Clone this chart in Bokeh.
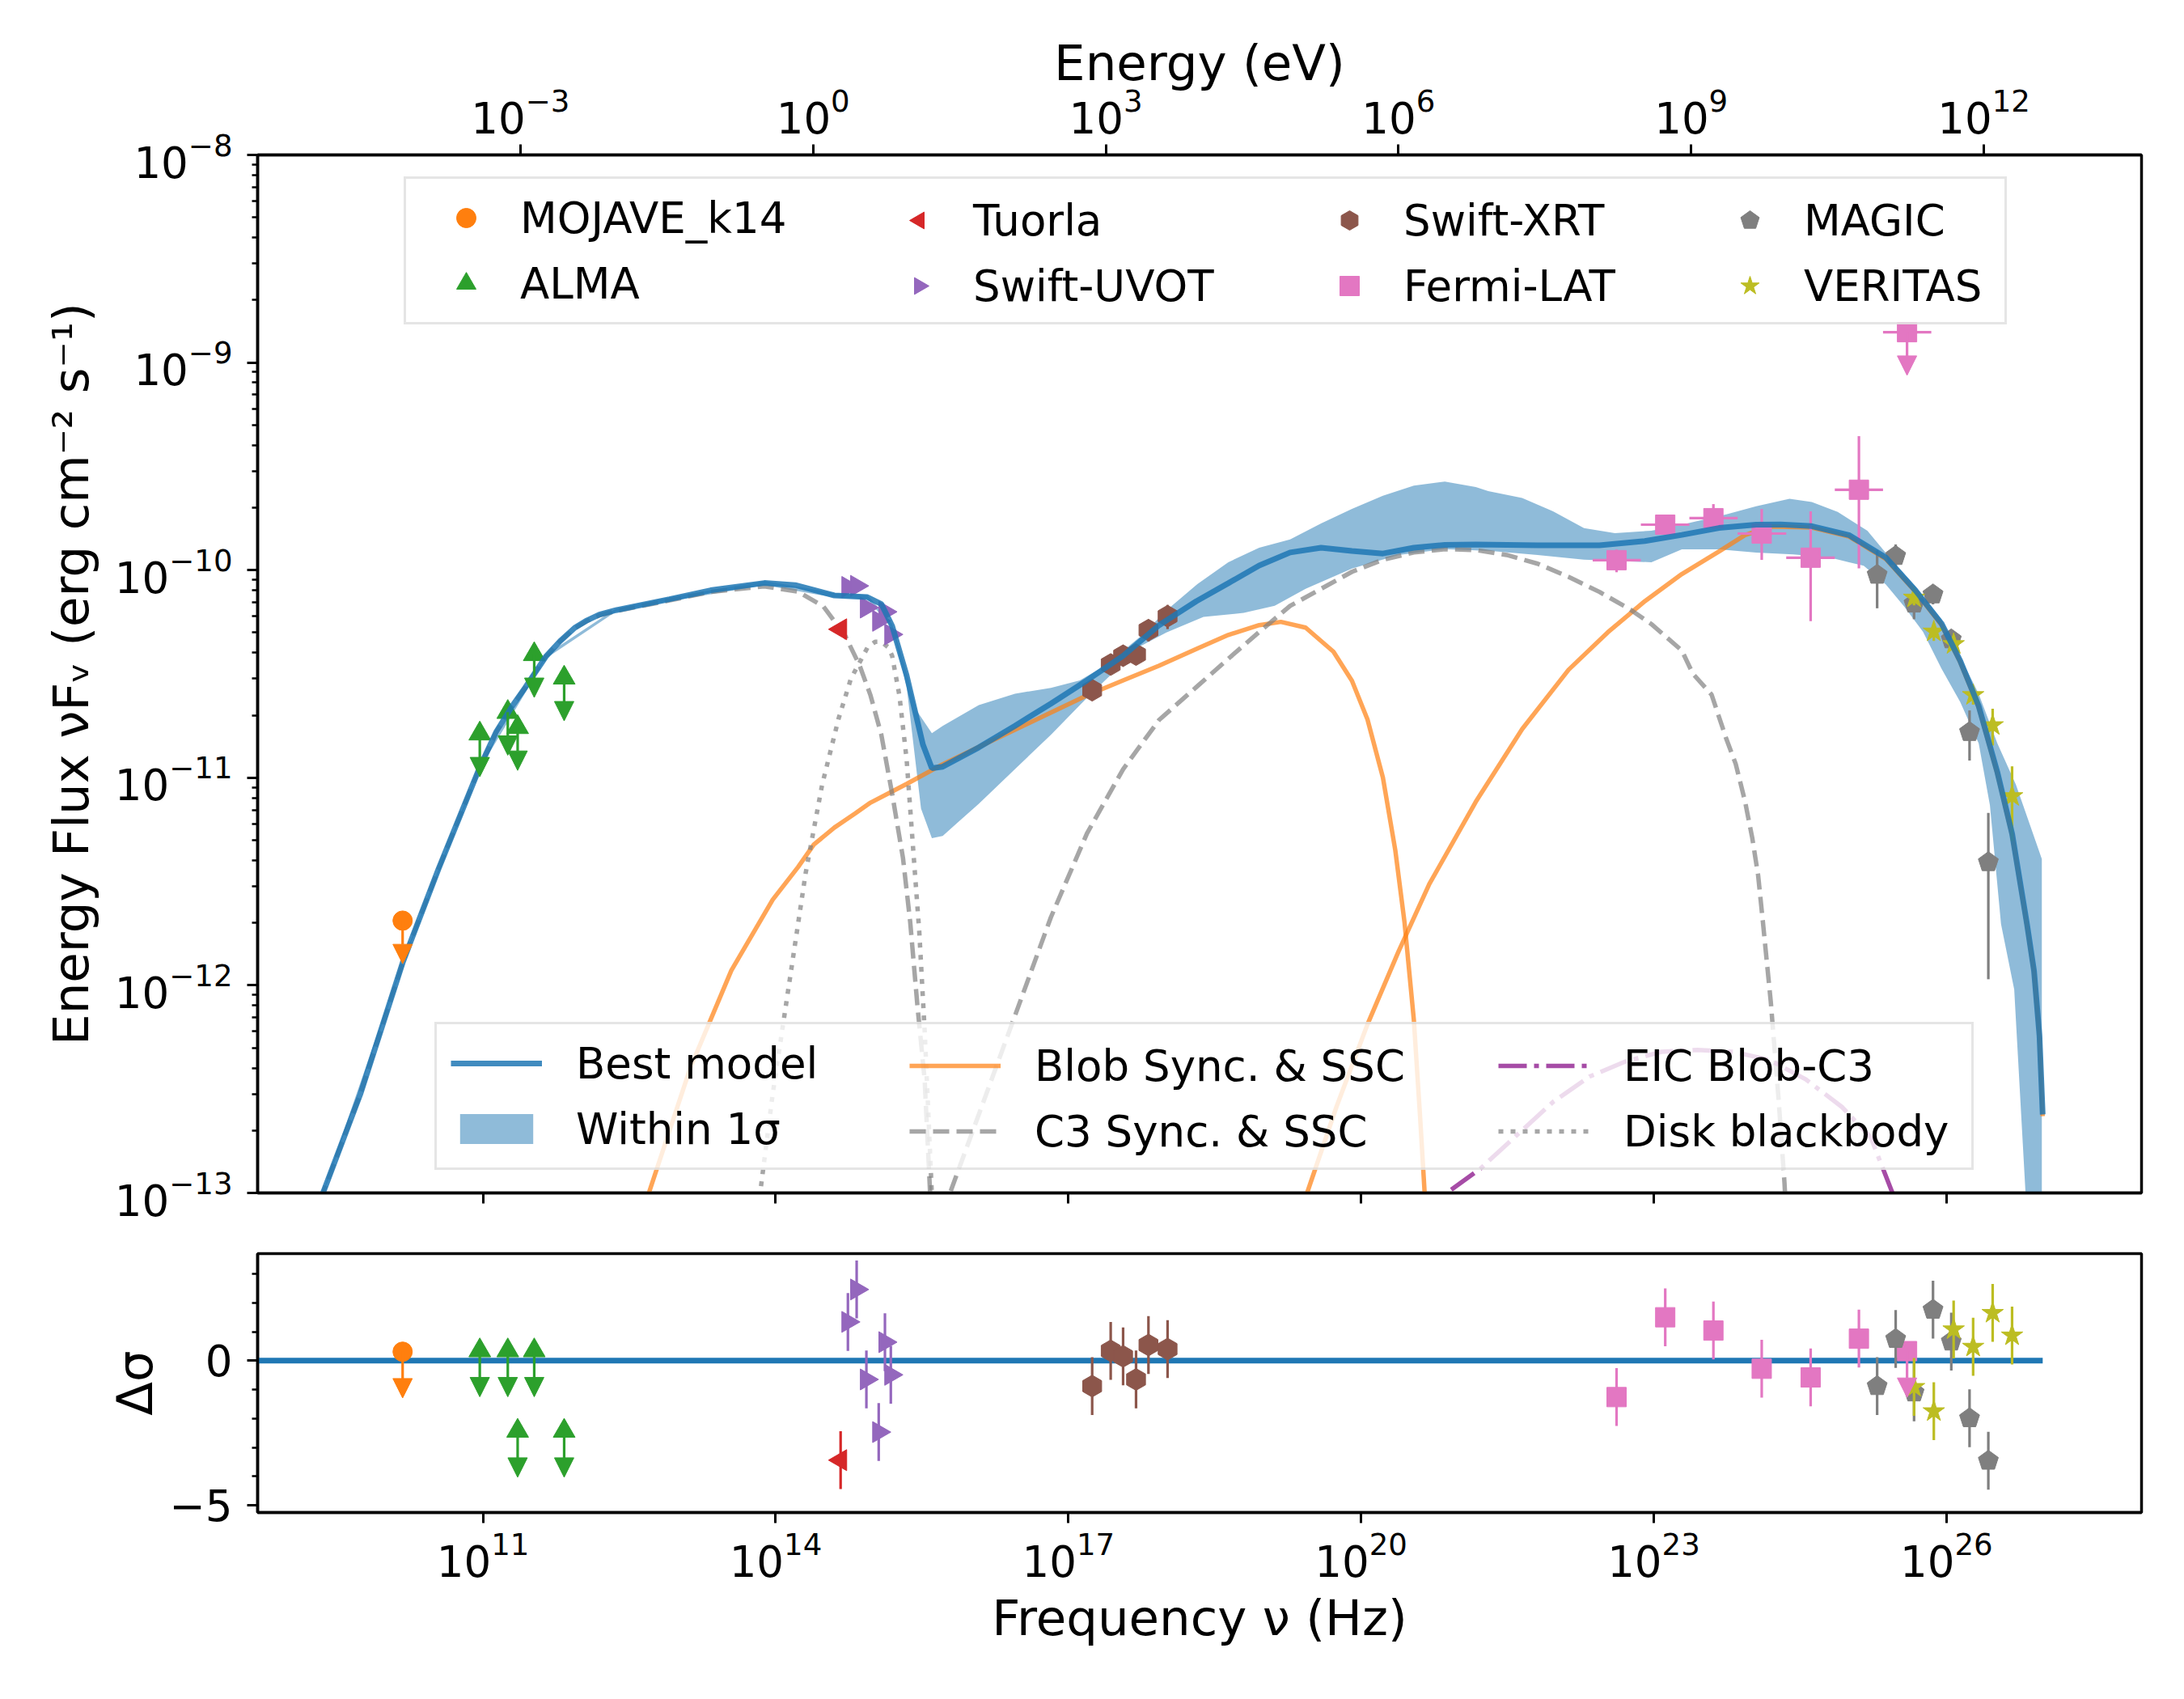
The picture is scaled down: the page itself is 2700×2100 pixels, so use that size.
import numpy as np
from bokeh.plotting import figure
from bokeh.layouts import column
from bokeh.models import (ColumnDataSource, Range1d, LogScale, LogAxis, FixedTicker,
                          LogTickFormatter, CustomJSTickFormatter, Legend, LegendItem,
                          Arrow, NormalHead)
from bokeh.embed import file_html
from bokeh.resources import INLINE

FONT = "DejaVu Sans"
H_EV = 4.135667696e-15  # Planck constant (eV s)

# ---------------- observational data ----------------
mojave_nu = [1.50e10]
mojave_flux = [2.05e-12]
mojave_res = [0.31]

alma_nu = [9.27e10, 1.795e11, 2.265e11, 3.35e11, 6.79e11]
alma_flux = [1.63e-11, 2.07e-11, 1.75e-11, 3.93e-11, 3.03e-11]
alma_res = [0.35, 0.35, -2.43, 0.35, -2.43]

tuorla_nu = [4.63e14]
tuorla_flux = [5.19e-11]
tuorla_err = [3.0e-12]
tuorla_res = [-3.44]

uvot_nu = [5.50e14, 6.76e14, 8.51e14, 1.138e15, 1.318e15, 1.514e15]
uvot_flux = [8.3e-11, 8.4e-11, 6.6e-11, 5.7e-11, 6.3e-11, 4.9e-11]
uvot_err = [3.0e-12, 3.0e-12, 2.5e-12, 2.5e-12, 3.0e-12, 2.5e-12]
uvot_res = [1.34, 2.46, -0.65, -2.47, 0.64, -0.49]

xrt_nu = [1.754e17, 2.716e17, 3.64e17, 4.94e17, 6.62e17, 1.04e18]
xrt_flux = [2.64e-11, 3.51e-11, 3.87e-11, 3.92e-11, 5.14e-11, 6.0e-11]
xrt_err = [2.5e-12, 3.0e-12, 3.5e-12, 4.0e-12, 6.0e-12, 8.0e-12]
xrt_res = [-0.88, 0.34, 0.15, -0.65, 0.54, 0.40]

fermi_nu = [4.16e22, 1.312e23, 4.09e23, 1.279e24, 4.06e24, 1.268e25]
fermi_nu_min = [2.37e22, 7.38e22, 2.32e23, 7.24e23, 2.28e24, 7.18e24]
fermi_nu_max = [7.38e22, 2.32e23, 7.24e23, 2.28e24, 7.18e24, 2.24e25]
fermi_flux = [1.117e-10, 1.656e-10, 1.78e-10, 1.50e-10, 1.148e-10, 2.44e-10]
fermi_err_lo = [1.4e-11, 1.5e-11, 2.0e-11, 3.8e-11, 5.8e-11, 1.42e-10]
fermi_err_hi = [1.4e-11, 1.6e-11, 3.0e-11, 4.7e-11, 7.7e-11, 1.98e-10]
fermi_res = [-1.26, 1.50, 1.04, -0.28, -0.58, 0.76]
fermi_ul_nu = [3.95e25]
fermi_ul_nu_min = [2.24e25]
fermi_ul_nu_max = [7.0e25]
fermi_ul_flux = [1.40e-9]
fermi_ul_res = [0.33]

magic_nu = [1.95e25, 3.02e25, 4.66e25, 7.29e25, 1.122e26, 1.726e26, 2.69e26]
magic_flux = [9.5e-11, 1.17e-10, 6.9e-11, 7.64e-11, 4.64e-11, 1.66e-11, 3.92e-12]
magic_err = [2.95e-11, 1.6e-11, 1.1e-11, 8.0e-12, 4.0e-12, 4.5e-12, 2.85e-12]
magic_res = [-0.88, 0.75, -1.10, 1.76, 0.66, -1.99, -3.46]

veritas_nu = [4.66e25, 7.43e25, 1.186e26, 1.879e26, 2.979e26, 4.71e26]
veritas_flux = [7.37e-11, 5.06e-11, 4.4e-11, 2.5e-11, 1.79e-11, 8.15e-12]
veritas_err = [6.0e-12, 5.0e-12, 3.5e-12, 2.5e-12, 3.6e-12, 3.2e-12]
veritas_res = [-0.91, -1.75, 1.08, 0.48, 1.65, 0.87]

RES_ERR = 1.0

# ---------------- model curves (log10 nu, log10 nuFnu) ----------------
best_lognu = [8.5, 9.36, 9.742, 10.18, 10.544, 10.967, 11.136, 11.305, 11.432, 11.643, 11.791,
              11.94, 12.066, 12.193, 12.362, 12.911, 13.334, 13.884, 14.2, 14.602, 14.94,
              15.083, 15.194, 15.342, 15.509, 15.601, 15.712, 16.082, 16.452, 16.821, 17.191,
              17.561, 17.931, 18.31, 18.639, 18.956, 19.273, 19.59, 19.907, 20.224, 20.541,
              20.859, 21.176, 21.81, 22.444, 22.908, 23.288, 23.669, 24.05, 24.3, 24.62, 25.0,
              25.381, 25.685, 25.951, 26.142, 26.331, 26.522, 26.674, 26.826, 26.898, 26.954,
              26.987]
best_logf = [-14.1, -13.0, -12.525, -11.886, -11.439, -10.949, -10.779, -10.651, -10.566,
             -10.417, -10.342, -10.278, -10.242, -10.214, -10.193, -10.14, -10.097, -10.062,
             -10.072, -10.122, -10.13, -10.163, -10.269, -10.507, -10.84, -10.954, -10.947,
             -10.854, -10.75, -10.643, -10.531, -10.413, -10.265, -10.15, -10.063, -9.978,
             -9.915, -9.892, -9.908, -9.92, -9.892, -9.878, -9.876, -9.88, -9.88, -9.86, -9.83,
             -9.797, -9.781, -9.78, -9.788, -9.831, -9.94, -10.099, -10.258, -10.437, -10.655,
             -10.973, -11.271, -11.705, -11.93, -12.243, -12.622]

band_hi_lognu = [9.36, 10.18, 10.967, 11.643, 12.362, 12.911, 13.884, 14.602, 14.94, 15.194,
                 15.342, 15.45, 15.601, 15.712, 16.082, 16.452, 16.821, 17.117, 17.376, 17.746,
                 18.005, 18.322, 18.639, 18.956, 19.273, 19.59, 19.907, 20.224, 20.541, 20.859,
                 21.176, 21.303, 21.651, 21.968, 22.285, 22.602, 22.976, 23.288, 23.745, 24.05,
                 24.392, 24.62, 24.886, 25.19, 25.419, 25.685, 25.951, 26.142, 26.331, 26.522,
                 26.712, 26.978]
band_hi_logf = [-12.99, -11.875, -10.94, -10.408, -10.185, -10.13, -10.052, -10.11, -10.12,
                -10.258, -10.49, -10.68, -10.785, -10.75, -10.65, -10.595, -10.567, -10.531,
                -10.46, -10.317, -10.194, -10.067, -9.962, -9.892, -9.852, -9.775, -9.705,
                -9.642, -9.593, -9.573, -9.6, -9.619, -9.652, -9.717, -9.798, -9.822, -9.81,
                -9.781, -9.731, -9.692, -9.656, -9.672, -9.72, -9.81, -9.94, -10.079, -10.238,
                -10.417, -10.596, -10.834, -11.033, -11.391]
band_lo_lognu = [9.36, 10.18, 10.967, 11.643, 12.362, 12.911, 13.884, 14.602, 14.94, 15.194,
                 15.342, 15.49, 15.601, 15.712, 16.082, 16.452, 16.821, 17.191, 17.376, 17.746,
                 18.005, 18.385, 18.797, 19.115, 19.432, 19.907, 20.383, 20.859, 21.334, 21.81,
                 22.285, 22.976, 23.288, 23.669, 24.05, 24.43, 24.81, 25.152, 25.38, 25.571,
                 25.761, 25.951, 26.142, 26.331, 26.446, 26.56, 26.695, 26.811, 26.9, 26.978]
band_lo_logf = [-13.01, -11.897, -10.958, -10.426, -10.2, -10.15, -10.072, -10.132, -10.14,
                -10.28, -10.56, -11.149, -11.291, -11.28, -11.125, -10.959, -10.793, -10.615,
                -10.531, -10.365, -10.3, -10.225, -10.206, -10.172, -10.09, -9.992, -9.927,
                -9.899, -9.908, -9.927, -9.95, -9.962, -9.9, -9.9, -9.915, -9.924, -9.94, -9.979,
                -10.069, -10.178, -10.297, -10.476, -10.635, -10.834, -11.132, -11.705, -12.02,
                -13.0, -13.6, -14.2]

blob_sync_lognu = [12.62, 12.70, 13.123, 13.545, 13.969, 14.23, 14.391, 14.602, 14.814, 14.972,
                   15.194, 15.342, 15.712, 16.082, 16.452, 16.821, 17.191, 17.561, 17.931, 18.31,
                   18.639, 18.956, 19.178, 19.432, 19.717, 19.907, 20.066, 20.224, 20.351,
                   20.446, 20.541, 20.605, 20.652, 20.68]
blob_sync_logf = [-13.3, -13.0, -12.4, -11.929, -11.588, -11.43, -11.322, -11.24, -11.172, -11.12,
                  -11.066, -11.03, -10.935, -10.852, -10.769, -10.686, -10.603, -10.531, -10.46,
                  -10.38, -10.312, -10.265, -10.249, -10.277, -10.393, -10.533, -10.719, -10.999,
                  -11.349, -11.698, -12.165, -12.631, -13.0, -13.3]
blob_ssc_lognu = [19.38, 19.447, 19.749, 20.066, 20.383, 20.7, 21.176, 21.651, 22.127, 22.528,
                  22.908, 23.288, 23.669, 23.935, 24.2, 24.62, 25.0, 25.381, 25.685, 25.951,
                  26.142, 26.331, 26.522, 26.674, 26.826, 26.898, 26.954, 26.987]
blob_ssc_logf = [-13.3, -13.0, -12.584, -12.188, -11.838, -11.512, -11.116, -10.766, -10.48,
                 -10.30, -10.15, -10.019, -9.91, -9.831, -9.79, -9.795, -9.838, -9.947, -10.105,
                 -10.265, -10.444, -10.662, -10.98, -11.278, -11.712, -11.937, -12.25, -12.63]

c3_sync_lognu = [8.5, 9.36, 9.742, 10.18, 10.544, 10.967, 11.136, 11.305, 11.432, 11.643, 11.791,
                 11.94, 12.066, 12.193, 12.362, 12.911, 13.334, 13.884, 14.23, 14.49, 14.713,
                 14.861, 14.972, 15.083, 15.194, 15.305, 15.379, 15.453, 15.527, 15.583, 15.64]
c3_sync_logf = [-14.1, -13.0, -12.525, -11.886, -11.439, -10.949, -10.779, -10.651, -10.566,
                -10.417, -10.342, -10.28, -10.245, -10.218, -10.197, -10.146, -10.105, -10.078,
                -10.104, -10.175, -10.317, -10.46, -10.603, -10.793, -11.078, -11.387, -11.696,
                -12.099, -12.455, -13.0, -13.5]
c3_ssc_lognu = [15.74, 15.787, 16.082, 16.452, 16.821, 17.191, 17.561, 17.931, 18.32, 18.639,
                18.956, 19.273, 19.59, 19.907, 20.224, 20.541, 20.859, 21.176, 21.493, 21.81,
                22.127, 22.444, 22.761, 22.976, 23.288, 23.40, 23.593, 23.745, 23.84, 23.935,
                24.01, 24.07, 24.118, 24.2, 24.28, 24.34, 24.38]
c3_ssc_logf = [-13.1, -13.0, -12.622, -12.147, -11.672, -11.268, -10.959, -10.721, -10.56,
               -10.427, -10.298, -10.172, -10.09, -10.008, -9.95, -9.915, -9.899, -9.903, -9.927,
               -9.969, -10.032, -10.105, -10.19, -10.26, -10.387, -10.498, -10.6, -10.814,
               -10.933, -11.112, -11.29, -11.47, -11.69, -12.08, -12.55, -12.95, -13.3]

eic_lognu = [20.8, 20.879, 21.23, 21.6, 21.97, 22.34, 22.71, 23.08, 23.449, 23.819, 24.189,
             24.559, 24.929, 25.224, 25.447, 25.5]
eic_logf = [-13.2, -13.0, -12.88, -12.72, -12.561, -12.44, -12.367, -12.32, -12.311, -12.32,
            -12.36, -12.453, -12.586, -12.732, -13.0, -13.15]

disk_lognu = [13.80, 13.841, 13.969, 14.138, 14.307, 14.476, 14.645, 14.771, 14.94, 15.02,
              15.083, 15.15, 15.194, 15.268, 15.342, 15.416, 15.472, 15.527, 15.572, 15.6, 15.62]
disk_logf = [-13.2, -13.0, -12.525, -11.992, -11.46, -11.034, -10.715, -10.523, -10.374,
             -10.345, -10.345, -10.37, -10.413, -10.603, -10.911, -11.387, -11.743, -12.218,
             -12.693, -13.0, -13.2]

# ---------------- colours ----------------
C_MOJ, C_ALMA, C_TUO, C_UVOT = "#ff7f0e", "#2ca02c", "#d62728", "#9467bd"
C_XRT, C_FERMI, C_MAGIC, C_VER = "#8c564b", "#e377c2", "#7f7f7f", "#bcbd22"
C_BEST = "#1f77b4"


def tolin(a):
    return np.power(10.0, np.asarray(a, dtype=float))


X_RANGE = (10 ** 8.69, 10 ** 28.0)
Y_RANGE = (1e-13, 1e-8)
W = 2680


def style_axis(ax):
    ax.axis_line_width = 3.5
    ax.axis_line_color = "black"
    ax.major_tick_line_width = 3
    ax.minor_tick_line_width = 2.4
    ax.major_tick_out = 13
    ax.major_tick_in = 0
    ax.minor_tick_out = 7
    ax.minor_tick_in = 0
    ax.major_label_text_font = FONT
    ax.major_label_text_font_size = "53px"
    ax.major_label_text_color = "black"
    ax.axis_label_text_font = FONT
    ax.axis_label_text_font_size = "61px"
    ax.axis_label_text_font_style = "normal"
    ax.axis_label_text_color = "black"


# =========================== main SED panel ===========================
p = figure(width=W, height=1517, x_axis_type="log", y_axis_type="log",
           x_range=Range1d(*X_RANGE), y_range=Range1d(*Y_RANGE),
           output_backend="svg", toolbar_location=None,
           min_border_left=318, min_border_right=33, min_border_top=191, min_border_bottom=43)
p.xgrid.visible = False
p.ygrid.visible = False
p.outline_line_color = "black"
p.outline_line_width = 3.5
p.background_fill_color = "white"
p.border_fill_color = "white"

freq_ticks = [1e11, 1e14, 1e17, 1e20, 1e23, 1e26]
p.xaxis.ticker = FixedTicker(ticks=freq_ticks, minor_ticks=[])
p.xaxis.formatter = CustomJSTickFormatter(code="return ''")
y_minor = [k * 10.0 ** e for e in range(-13, -8) for k in range(2, 10)]
p.yaxis.ticker = FixedTicker(ticks=[1e-13, 1e-12, 1e-11, 1e-10, 1e-9, 1e-8], minor_ticks=y_minor)
p.yaxis.formatter = LogTickFormatter()
p.yaxis.axis_label = "Energy Flux \u03bdF\u1d65 (erg cm\u207b\u00b2 s\u207b\u00b9)"
for ax in p.xaxis + p.yaxis:
    style_axis(ax)
p.yaxis.major_label_standoff = 18
p.yaxis.axis_label_standoff = 16

# top energy axis
p.extra_x_ranges = {"energy": Range1d(X_RANGE[0] * H_EV, X_RANGE[1] * H_EV)}
p.extra_x_scales = {"energy": LogScale()}
top_ax = LogAxis(x_range_name="energy",
                 ticker=FixedTicker(ticks=[1e-3, 1e0, 1e3, 1e6, 1e9, 1e12], minor_ticks=[]),
                 formatter=LogTickFormatter(), axis_label="Energy (eV)")
style_axis(top_ax)
top_ax.major_label_standoff = 14
top_ax.axis_label_standoff = -7
p.add_layout(top_ax, "above")

# 1-sigma band
band_x = np.concatenate([tolin(band_hi_lognu), tolin(band_lo_lognu)[::-1]])
band_y = np.concatenate([tolin(band_hi_logf), tolin(band_lo_logf)[::-1]])
r_band = p.patch(band_x, band_y, fill_color=C_BEST, fill_alpha=0.5, line_alpha=0)

# model components
LW = 5.5
r_blob = p.line(tolin(blob_sync_lognu), tolin(blob_sync_logf), line_color="#ff7f0e",
                line_alpha=0.7, line_width=LW)
p.line(tolin(blob_ssc_lognu), tolin(blob_ssc_logf), line_color="#ff7f0e", line_alpha=0.7,
       line_width=LW)
r_c3 = p.line(tolin(c3_sync_lognu), tolin(c3_sync_logf), line_color="gray", line_alpha=0.7,
              line_width=LW, line_dash="20 9")
p.line(tolin(c3_ssc_lognu), tolin(c3_ssc_logf), line_color="gray", line_alpha=0.7,
       line_width=LW, line_dash="20 9")
r_eic = p.line(tolin(eic_lognu), tolin(eic_logf), line_color="purple", line_alpha=0.7,
               line_width=LW, line_dash="35 9 6 9")
r_disk = p.line(tolin(disk_lognu), tolin(disk_logf), line_color="gray", line_alpha=0.7,
                line_width=LW, line_dash="6 9")

EB = 3.2


def errbars(fig, x, y, lo, hi, color):
    y = np.asarray(y, float)
    fig.segment(x0=x, y0=y - np.asarray(lo, float), x1=x, y1=y + np.asarray(hi, float),
                line_color=color, line_width=EB)


def xbars(fig, y, x0, x1, color):
    fig.segment(x0=x0, y0=y, x1=x1, y1=y, line_color=color, line_width=EB)


def arrows(fig, x, y0, y1, color):
    src = ColumnDataSource(dict(x=list(x), y0=list(y0), y1=list(y1)))
    fig.add_layout(Arrow(end=NormalHead(size=24, fill_color=color, line_color=color, line_width=1),
                         x_start="x", y_start="y0", x_end="x", y_end="y1", source=src,
                         line_color=color, line_width=EB))


def polygons(fig, x, y, n, radius, angle, color, fallback, fb_angle):
    try:
        return fig.ngon(x=x, y=y, radius=radius, radius_units="screen", n=n, angle=angle,
                        fill_color=color, line_color=color)
    except Exception:
        return fig.scatter(x, y, marker=fallback, angle=fb_angle, size=2 * radius,
                           fill_color=color, line_color=color)


UL_TIP = 0.62  # arrow tip position relative to the limit value (display length)

# MOJAVE (upper limit)
arrows(p, mojave_nu, mojave_flux, np.asarray(mojave_flux) * UL_TIP, C_MOJ)
r_moj = p.scatter(mojave_nu, mojave_flux, marker="circle", size=24, fill_color=C_MOJ, line_color=C_MOJ)
# ALMA (upper limits)
arrows(p, alma_nu, alma_flux, np.asarray(alma_flux) * UL_TIP, C_ALMA)
r_alma = p.scatter(alma_nu, alma_flux, marker="triangle", size=27, fill_color=C_ALMA, line_color=C_ALMA)
# Tuorla
errbars(p, tuorla_nu, tuorla_flux, tuorla_err, tuorla_err, C_TUO)
r_tuo = polygons(p, tuorla_nu, tuorla_flux, 3, 15, np.pi / 2, C_TUO, "triangle", np.pi / 2)
# UVOT
errbars(p, uvot_nu, uvot_flux, uvot_err, uvot_err, C_UVOT)
r_uvot = polygons(p, uvot_nu, uvot_flux, 3, 15, -np.pi / 2, C_UVOT, "triangle", -np.pi / 2)
# XRT
errbars(p, xrt_nu, xrt_flux, xrt_err, xrt_err, C_XRT)
r_xrt = polygons(p, xrt_nu, xrt_flux, 6, 13.5, 0.0, C_XRT, "hex", np.pi / 2)
# Fermi
errbars(p, fermi_nu, fermi_flux, fermi_err_lo, fermi_err_hi, C_FERMI)
xbars(p, fermi_flux, fermi_nu_min, fermi_nu_max, C_FERMI)
xbars(p, fermi_ul_flux, fermi_ul_nu_min, fermi_ul_nu_max, C_FERMI)
arrows(p, fermi_ul_nu, fermi_ul_flux, np.asarray(fermi_ul_flux) * UL_TIP, C_FERMI)
r_fermi = p.scatter(fermi_nu, fermi_flux, marker="square", size=24, fill_color=C_FERMI, line_color=C_FERMI)
p.scatter(fermi_ul_nu, fermi_ul_flux, marker="square", size=24, fill_color=C_FERMI, line_color=C_FERMI)
# MAGIC
errbars(p, magic_nu, magic_flux, magic_err, magic_err, C_MAGIC)
r_magic = polygons(p, magic_nu, magic_flux, 5, 13, 0.0, C_MAGIC, "hex", 0.0)
# VERITAS
errbars(p, veritas_nu, veritas_flux, veritas_err, veritas_err, C_VER)
r_ver = p.scatter(veritas_nu, veritas_flux, marker="star", size=28, fill_color=C_VER, line_color=C_VER)

# best model on top
r_best = p.line(tolin(best_lognu), tolin(best_logf), line_color=C_BEST, line_alpha=0.85, line_width=7)


def legend_block(fig, columns, xs, y, glyph_w, glyph_h, standoff, frame_label_w):
    for k, (items, x) in enumerate(zip(columns, xs)):
        leg = Legend(items=items, location=(x, y), orientation="vertical",
                     label_text_font=FONT, label_text_font_size="53px", label_text_color="black",
                     glyph_width=glyph_w, glyph_height=glyph_h, label_standoff=standoff,
                     label_height=62, spacing=19, padding=17, margin=0)
        if k == 0:
            leg.label_width = frame_label_w
            leg.border_line_color = "#cccccc"
            leg.border_line_width = 3
            leg.background_fill_color = "white"
            leg.background_fill_alpha = 0.8
        else:
            leg.border_line_alpha = 0.0
            leg.background_fill_alpha = 0.0
        fig.add_layout(leg)


data_cols = [[LegendItem(label="MOJAVE_k14", renderers=[r_moj]),
              LegendItem(label="ALMA", renderers=[r_alma])],
             [LegendItem(label="Tuorla", renderers=[r_tuo]),
              LegendItem(label="Swift-UVOT", renderers=[r_uvot])],
             [LegendItem(label="Swift-XRT", renderers=[r_xrt]),
              LegendItem(label="Fermi-LAT", renderers=[r_fermi])],
             [LegendItem(label="MAGIC", renderers=[r_magic]),
              LegendItem(label="VERITAS", renderers=[r_ver])]]
legend_block(p, data_cols, [181, 744, 1276, 1771], 1073, 114, 60, 10, 1818)

model_cols = [[LegendItem(label="Best model", renderers=[r_best]),
               LegendItem(label="Within 1\u03c3", renderers=[r_band])],
              [LegendItem(label="Blob Sync. & SSC", renderers=[r_blob]),
               LegendItem(label="C3 Sync. & SSC", renderers=[r_c3])],
              [LegendItem(label="EIC Blob-C3", renderers=[r_eic]),
               LegendItem(label="Disk blackbody", renderers=[r_disk])]]
legend_block(p, model_cols, [219, 789, 1517], 28, 113, 46, 42, 1708)

# =========================== residual panel ===========================
q = figure(width=W, height=537, x_axis_type="log", x_range=p.x_range,
           y_range=Range1d(-5.25, 3.7), output_backend="svg", toolbar_location=None,
           min_border_left=318, min_border_right=33, min_border_top=32, min_border_bottom=185)
q.xgrid.visible = False
q.ygrid.visible = False
q.outline_line_color = "black"
q.outline_line_width = 3.5
q.background_fill_color = "white"
q.border_fill_color = "white"
q.xaxis.ticker = FixedTicker(ticks=freq_ticks, minor_ticks=[])
q.xaxis.formatter = LogTickFormatter()
q.xaxis.axis_label = "Frequency \u03bd (Hz)"
q.yaxis.ticker = FixedTicker(ticks=[-5, 0], minor_ticks=list(range(-5, 4)))
q.yaxis.formatter = CustomJSTickFormatter(
    code="return tick < 0 ? '\\u2212' + Math.abs(tick) : String(tick)")
q.yaxis.axis_label = "\u0394\u03c3"
for ax in q.xaxis + q.yaxis:
    style_axis(ax)
q.xaxis.major_label_standoff = 10
q.xaxis.axis_label_standoff = 12
q.yaxis.major_label_standoff = 18
q.yaxis.axis_label_standoff = 4

best_nu = tolin(best_lognu)
q.line([best_nu[0], best_nu[-1]], [0, 0], line_color=C_BEST, line_width=7)

RES_UL = 1.6


def res_err(x, r, color):
    r = np.asarray(r, float)
    q.segment(x0=x, y0=r - RES_ERR, x1=x, y1=r + RES_ERR, line_color=color, line_width=EB)


arrows(q, mojave_nu, mojave_res, np.asarray(mojave_res) - RES_UL, C_MOJ)
q.scatter(mojave_nu, mojave_res, marker="circle", size=24, fill_color=C_MOJ, line_color=C_MOJ)
arrows(q, alma_nu, alma_res, np.asarray(alma_res) - RES_UL, C_ALMA)
q.scatter(alma_nu, alma_res, marker="triangle", size=27, fill_color=C_ALMA, line_color=C_ALMA)
res_err(tuorla_nu, tuorla_res, C_TUO)
polygons(q, tuorla_nu, tuorla_res, 3, 15, np.pi / 2, C_TUO, "triangle", np.pi / 2)
res_err(uvot_nu, uvot_res, C_UVOT)
polygons(q, uvot_nu, uvot_res, 3, 15, -np.pi / 2, C_UVOT, "triangle", -np.pi / 2)
res_err(xrt_nu, xrt_res, C_XRT)
polygons(q, xrt_nu, xrt_res, 6, 13.5, 0.0, C_XRT, "hex", np.pi / 2)
res_err(fermi_nu, fermi_res, C_FERMI)
q.scatter(fermi_nu, fermi_res, marker="square", size=24, fill_color=C_FERMI, line_color=C_FERMI)
arrows(q, fermi_ul_nu, fermi_ul_res, np.asarray(fermi_ul_res) - RES_UL, C_FERMI)
q.scatter(fermi_ul_nu, fermi_ul_res, marker="square", size=24, fill_color=C_FERMI, line_color=C_FERMI)
res_err(magic_nu, magic_res, C_MAGIC)
polygons(q, magic_nu, magic_res, 5, 13, 0.0, C_MAGIC, "hex", 0.0)
res_err(veritas_nu, veritas_res, C_VER)
q.scatter(veritas_nu, veritas_res, marker="star", size=28, fill_color=C_VER, line_color=C_VER)

layout = column(p, q, spacing=0)
open("out.html", "w").write(file_html(layout, INLINE))
